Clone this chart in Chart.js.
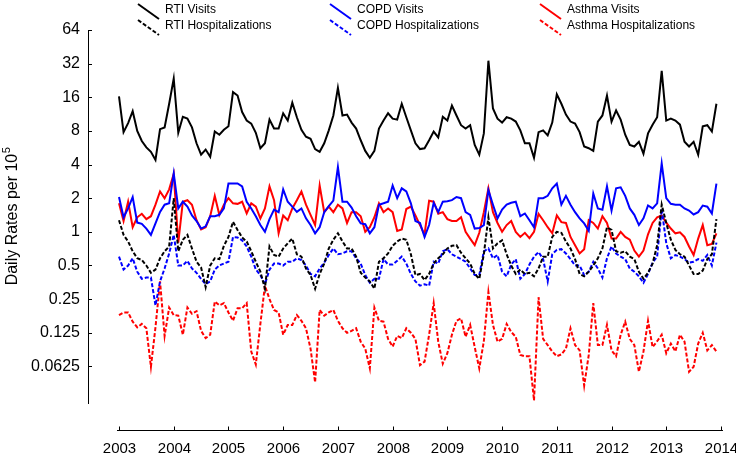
<!DOCTYPE html>
<html>
<head>
<meta charset="utf-8">
<title>Daily rates</title>
<script src="https://cdn.jsdelivr.net/npm/chart.js@4.4.0/dist/chart.umd.min.js"></script>
<style>body{margin:0;background:#fff}</style>
</head>
<body>
<canvas id="chart" width="736" height="453"></canvas>
<script>
// monthly series, Jan 2003 .. Dec 2013
var startYear = 2003;
var yearTicks = [2003, 2004, 2005, 2006, 2007, 2008, 2009, 2010, 2011, 2012, 2013, 2014];
var rateTicks = [0.0625, 0.125, 0.25, 0.5, 1, 2, 4, 8, 16, 32, 64];

var rtiVisits = [
  16.3, 7.8, 9.4, 12.0, 8.0, 6.5, 5.7, 5.2, 4.4, 8.3, 8.6, 14.0,
  23.5, 7.7, 10.7, 10.3, 8.6, 6.2, 4.9, 5.45, 4.7, 7.9, 7.4, 8.2,
  8.8, 17.8, 16.6, 11.8, 9.9, 9.3, 7.7, 5.6, 6.2, 10.1, 8.4, 8.4,
  11.5, 9.9, 14.3, 10.6, 8.2, 7.1, 6.8, 5.5, 5.2, 6.2, 8.1, 11.0,
  19.4, 11.0, 11.2, 9.5, 8.4, 6.6, 5.3, 4.6, 5.3, 8.4, 9.9, 11.5,
  10.3, 10.1, 14.0, 10.6, 8.1, 6.2, 5.5, 5.6, 6.6, 7.9, 7.0, 10.7,
  9.9, 13.5, 11.0, 9.0, 8.4, 9.0, 6.0, 4.9, 7.6, 34, 12.7, 10.3,
  9.5, 10.6, 10.3, 9.7, 8.1, 6.2, 6.2, 4.6, 7.8, 8.1, 7.3, 9.5,
  17, 14.0, 11.2, 9.7, 9.3, 7.8, 5.8, 5.6, 5.3, 9.7, 11.0, 16.6,
  9.7, 12.2, 10.1, 7.4, 6.0, 5.8, 6.4, 5.0, 7.6, 9.1, 10.6, 27.6,
  9.9, 10.3, 9.9, 9.1, 6.4, 5.8, 6.4, 4.9, 8.8, 9.0, 7.9, 14
];
var rtiHosp = [
  1.27, 0.94, 0.82, 0.67, 0.58, 0.56, 0.5, 0.43, 0.46, 0.58, 0.67, 0.74,
  2.0, 0.67, 0.85, 0.94, 0.71, 0.54, 0.48, 0.32, 0.5, 0.58, 0.57, 0.75,
  0.9, 1.23, 1.04, 0.89, 0.82, 0.67, 0.54, 0.44, 0.31, 0.74, 0.62, 0.6,
  0.71, 0.79, 0.87, 0.63, 0.6, 0.47, 0.41, 0.31, 0.42, 0.52, 0.71, 0.85,
  0.97, 0.82, 0.71, 0.71, 0.6, 0.43, 0.39, 0.36, 0.31, 0.54, 0.58, 0.64,
  0.75, 0.82, 0.87, 0.85, 0.63, 0.41, 0.42, 0.37, 0.42, 0.52, 0.58, 0.63,
  0.71, 0.75, 0.76, 0.65, 0.58, 0.52, 0.42, 0.38, 0.63, 1.35, 0.71, 0.79,
  0.84, 0.63, 0.5, 0.42, 0.46, 0.42, 0.43, 0.4, 0.47, 0.6, 0.6, 0.9,
  1.0, 0.98, 0.82, 0.71, 0.57, 0.42, 0.4, 0.44, 0.5, 0.58, 0.71, 1.1,
  1.04, 0.67, 0.65, 0.67, 0.6, 0.57, 0.44, 0.38, 0.43, 0.52, 0.76, 1.75,
  1.2, 0.85, 0.69, 0.63, 0.6, 0.5, 0.42, 0.42, 0.45, 0.57, 0.63, 1.3
];
var copdVisits = [
  2.05, 1.35, 1.62, 2.05, 1.21, 1.18, 1.07, 0.94, 1.19, 1.51, 1.75, 1.8,
  3.33, 1.62, 1.86, 1.68, 1.4, 1.25, 1.07, 1.12, 1.38, 1.38, 1.42, 1.62,
  2.71, 2.71, 2.71, 2.55, 1.86, 1.62, 1.38, 1.15, 1.0, 1.3, 1.58, 1.5,
  2.4, 1.86, 1.68, 1.51, 1.62, 1.32, 1.15, 0.97, 1.1, 1.5, 1.7, 1.9,
  3.8, 1.86, 1.86, 1.65, 1.38, 1.19, 1.17, 0.97, 1.1, 1.75, 1.8, 1.86,
  2.6, 2.0, 2.45, 2.3, 1.8, 1.25, 1.2, 0.9, 1.15, 1.82, 1.5, 1.86,
  1.88, 1.92, 2.05, 2.0, 1.5, 1.42, 1.07, 1.08, 1.15, 2.36, 1.75, 1.32,
  1.58, 1.75, 1.82, 1.86, 1.38, 1.46, 1.27, 1.1, 2.0, 2.0, 2.1, 2.45,
  2.7, 1.75, 2.1, 1.75, 1.5, 1.32, 1.19, 1.02, 2.2, 1.62, 1.58, 2.55,
  1.55, 2.45, 2.5, 2.1, 1.62, 1.42, 1.15, 1.32, 1.72, 1.62, 1.8, 4.1,
  2.0, 1.78, 1.75, 1.75, 1.62, 1.55, 1.43, 1.5, 1.72, 1.68, 1.46, 2.7
];
var copdHosp = [
  0.6, 0.46, 0.5, 0.58, 0.44, 0.38, 0.39, 0.39, 0.22, 0.36, 0.47, 0.64,
  0.94, 0.5, 0.5, 0.55, 0.47, 0.43, 0.38, 0.34, 0.36, 0.46, 0.5, 0.52,
  0.54, 0.9, 0.89, 0.84, 0.74, 0.6, 0.46, 0.41, 0.34, 0.46, 0.52, 0.52,
  0.5, 0.54, 0.54, 0.58, 0.56, 0.5, 0.42, 0.4, 0.47, 0.53, 0.62, 0.71,
  0.63, 0.64, 0.67, 0.67, 0.58, 0.52, 0.41, 0.35, 0.38, 0.38, 0.57, 0.51,
  0.51, 0.55, 0.6, 0.52, 0.42, 0.36, 0.33, 0.34, 0.33, 0.54, 0.52, 0.67,
  0.7, 0.63, 0.6, 0.57, 0.54, 0.47, 0.41, 0.41, 0.67, 0.71, 0.58, 0.62,
  0.44, 0.4, 0.51, 0.57, 0.38, 0.42, 0.51, 0.6, 0.66, 0.57, 0.36, 0.63,
  0.69, 0.7, 0.64, 0.57, 0.5, 0.5, 0.41, 0.44, 0.54, 0.47, 0.39, 0.58,
  0.74, 0.64, 0.6, 0.57, 0.47, 0.44, 0.4, 0.35, 0.42, 0.53, 0.6, 1.6,
  0.79, 0.58, 0.62, 0.6, 0.57, 0.53, 0.54, 0.57, 0.55, 0.62, 0.5, 0.8
];
var asthmaVisits = [
  1.8, 1.25, 1.86, 1.1, 1.35, 1.45, 1.3, 1.38, 1.75, 2.3, 2.0, 2.4,
  3.3, 0.8, 1.86, 1.92, 1.75, 1.27, 1.05, 1.1, 1.38, 2.1, 1.42, 1.75,
  2.0, 1.8, 1.78, 1.86, 1.46, 1.8, 1.68, 1.32, 1.62, 2.55, 1.92, 0.97,
  1.4, 1.27, 1.62, 1.92, 2.3, 1.75, 1.42, 1.15, 2.6, 1.5, 1.68, 1.5,
  1.75, 1.62, 1.2, 1.5, 1.5, 1.38, 1.0, 1.1, 1.35, 1.8, 1.5, 1.62,
  1.5, 1.02, 1.05, 1.6, 1.68, 1.4, 1.15, 0.95, 1.9, 1.86, 1.45, 1.5,
  1.3, 1.25, 1.25, 1.35, 1.0, 0.87, 0.76, 0.98, 1.5, 2.45, 1.5, 1.2,
  1.0, 1.15, 1.25, 1.0, 0.9, 0.98, 0.88, 1.0, 1.45, 1.27, 1.1, 0.97,
  1.4, 1.22, 1.2, 0.9, 0.76, 0.64, 0.7, 1.27, 1.2, 1.07, 1.38, 1.2,
  0.87, 0.87, 1.0, 0.9, 0.85, 0.68, 0.6, 0.68, 0.95, 1.2, 1.35, 1.4,
  1.21, 1.07, 0.97, 0.99, 0.9, 0.74, 0.62, 0.87, 1.15, 0.76, 0.78, 0.97
];
var asthmaHosp = [
  0.18, 0.19, 0.19, 0.157, 0.14, 0.15, 0.137, 0.062, 0.14, 0.36, 0.117, 0.21,
  0.18, 0.178, 0.12, 0.21, 0.185, 0.195, 0.13, 0.112, 0.12, 0.238, 0.22, 0.23,
  0.19, 0.16, 0.207, 0.207, 0.23, 0.085, 0.065, 0.15, 0.33, 0.25, 0.2, 0.19,
  0.12, 0.147, 0.147, 0.18, 0.16, 0.137, 0.09, 0.045, 0.2, 0.178, 0.19, 0.2,
  0.16, 0.137, 0.125, 0.13, 0.137, 0.104, 0.09, 0.06, 0.21, 0.16, 0.157, 0.11,
  0.094, 0.117, 0.112, 0.137, 0.125, 0.11, 0.064, 0.069, 0.12, 0.23, 0.104, 0.066,
  0.082, 0.12, 0.16, 0.168, 0.115, 0.147, 0.093, 0.06, 0.105, 0.29, 0.147, 0.104,
  0.11, 0.15, 0.127, 0.115, 0.079, 0.077, 0.077, 0.031, 0.26, 0.11, 0.097, 0.085,
  0.077, 0.08, 0.09, 0.137, 0.097, 0.087, 0.042, 0.079, 0.23, 0.097, 0.097, 0.147,
  0.087, 0.077, 0.12, 0.157, 0.11, 0.097, 0.056, 0.085, 0.16, 0.093, 0.105, 0.12,
  0.082, 0.1, 0.085, 0.12, 0.104, 0.056, 0.062, 0.1, 0.125, 0.087, 0.097, 0.085
];

function toPoints(values) {
  return values.map(function(v, i) { return {x: startYear + i / 12, y: v}; });
}

function makeSet(label, values, color, dashed) {
  return {
    label: label,
    data: toPoints(values),
    borderColor: color,
    backgroundColor: color,
    borderWidth: 2,
    borderDash: dashed ? [4, 2] : [],
    pointRadius: 0,
    tension: 0,
    fill: false
  };
}

var fontName = "'Liberation Sans', Arial, sans-serif";

// legend is drawn by hand: diagonal line samples, 3 columns x 2 rows
var legendCols = [138, 330, 540];
var legendRows = [4, 20];

var axesPlugin = {
  id: 'axesPlugin',
  afterDraw: function(chart) {
    var ctx = chart.ctx;
    var xs = chart.scales.x;
    var ys = chart.scales.y;
    var area = chart.chartArea;
    ctx.save();
    ctx.strokeStyle = '#000';
    ctx.fillStyle = '#000';
    ctx.lineWidth = 1;

    // inward y ticks
    rateTicks.forEach(function(v) {
      var py = Math.round(ys.getPixelForValue(v)) + 0.5;
      ctx.beginPath();
      ctx.moveTo(area.left, py);
      ctx.lineTo(area.left + 4, py);
      ctx.stroke();
    });

    // detached x axis
    var axisY = area.bottom + 27.5;
    var xa = xs.getPixelForValue(yearTicks[0]);
    var xb = xs.getPixelForValue(yearTicks[yearTicks.length - 1]);
    ctx.beginPath();
    ctx.moveTo(xa - 2, axisY);
    ctx.lineTo(xb + 2, axisY);
    ctx.stroke();
    ctx.font = '15px ' + fontName;
    ctx.textAlign = 'center';
    ctx.textBaseline = 'middle';
    yearTicks.forEach(function(yr) {
      var px = Math.round(xs.getPixelForValue(yr)) + 0.5;
      ctx.beginPath();
      ctx.moveTo(px, axisY);
      ctx.lineTo(px, axisY - 4);
      ctx.stroke();
      ctx.fillText(String(yr), px, axisY + 18);
    });

    // y title with superscript
    ctx.save();
    ctx.translate(13, (area.top + area.bottom) / 2);
    ctx.rotate(-Math.PI / 2);
    ctx.font = '16px ' + fontName;
    var main = 'Daily Rates per 10';
    var w1 = ctx.measureText(main).width;
    ctx.font = '11px ' + fontName;
    var w2 = ctx.measureText('5').width;
    var sx = -(w1 + w2) / 2;
    ctx.textAlign = 'left';
    ctx.textBaseline = 'middle';
    ctx.font = '16px ' + fontName;
    ctx.fillText(main, sx, 0);
    ctx.font = '11px ' + fontName;
    ctx.fillText('5', sx + w1 + 0.5, -6);
    ctx.restore();

    // legend
    ctx.font = '12px ' + fontName;
    ctx.textAlign = 'left';
    ctx.textBaseline = 'middle';
    chart.data.datasets.forEach(function(ds, i) {
      var col = Math.floor(i / 2);
      var row = i % 2;
      var lx = legendCols[col];
      var ly = legendRows[row];
      ctx.save();
      ctx.strokeStyle = ds.borderColor;
      ctx.lineWidth = 2;
      ctx.setLineDash(ds.borderDash);
      ctx.beginPath();
      ctx.moveTo(lx, ly);
      ctx.lineTo(lx + 21, ly + 15);
      ctx.stroke();
      ctx.restore();
      ctx.fillText(ds.label, lx + 27, ly + 6);
    });
    ctx.restore();
  }
};

var ctx = document.getElementById('chart').getContext('2d');
var chart = new Chart(ctx, {
  type: 'line',
  data: {
    datasets: [
      makeSet('RTI Visits', rtiVisits, '#000000', false),
      makeSet('RTI Hospitalizations', rtiHosp, '#000000', true),
      makeSet('COPD Visits', copdVisits, '#0000ff', false),
      makeSet('COPD Hospitalizations', copdHosp, '#0000ff', true),
      makeSet('Asthma Visits', asthmaVisits, '#ff0000', false),
      makeSet('Asthma Hospitalizations', asthmaHosp, '#ff0000', true)
    ]
  },
  options: {
    responsive: false,
    animation: false,
    devicePixelRatio: 1,
    layout: {padding: {left: 0, right: 6, top: 30, bottom: 50}},
    plugins: {legend: {display: false}, tooltip: {enabled: false}},
    scales: {
      x: {
        type: 'linear',
        display: false,
        min: 2002.4336,
        max: 2014.1646
      },
      y: {
        type: 'logarithmic',
        position: 'left',
        min: 0.0294,
        max: 64,
        afterBuildTicks: function(scale) {
          scale.ticks = rateTicks.map(function(v) { return {value: v}; });
        },
        afterFit: function(scale) { scale.width = 88; },
        grid: {display: false, drawTicks: false},
        border: {display: true, color: '#000', width: 1},
        ticks: {
          autoSkip: false,
          padding: 8,
          color: '#000',
          font: {family: fontName, size: 16},
          callback: function(v) { return String(v); }
        }
      }
    }
  },
  plugins: [axesPlugin]
});
</script>
</body>
</html>
